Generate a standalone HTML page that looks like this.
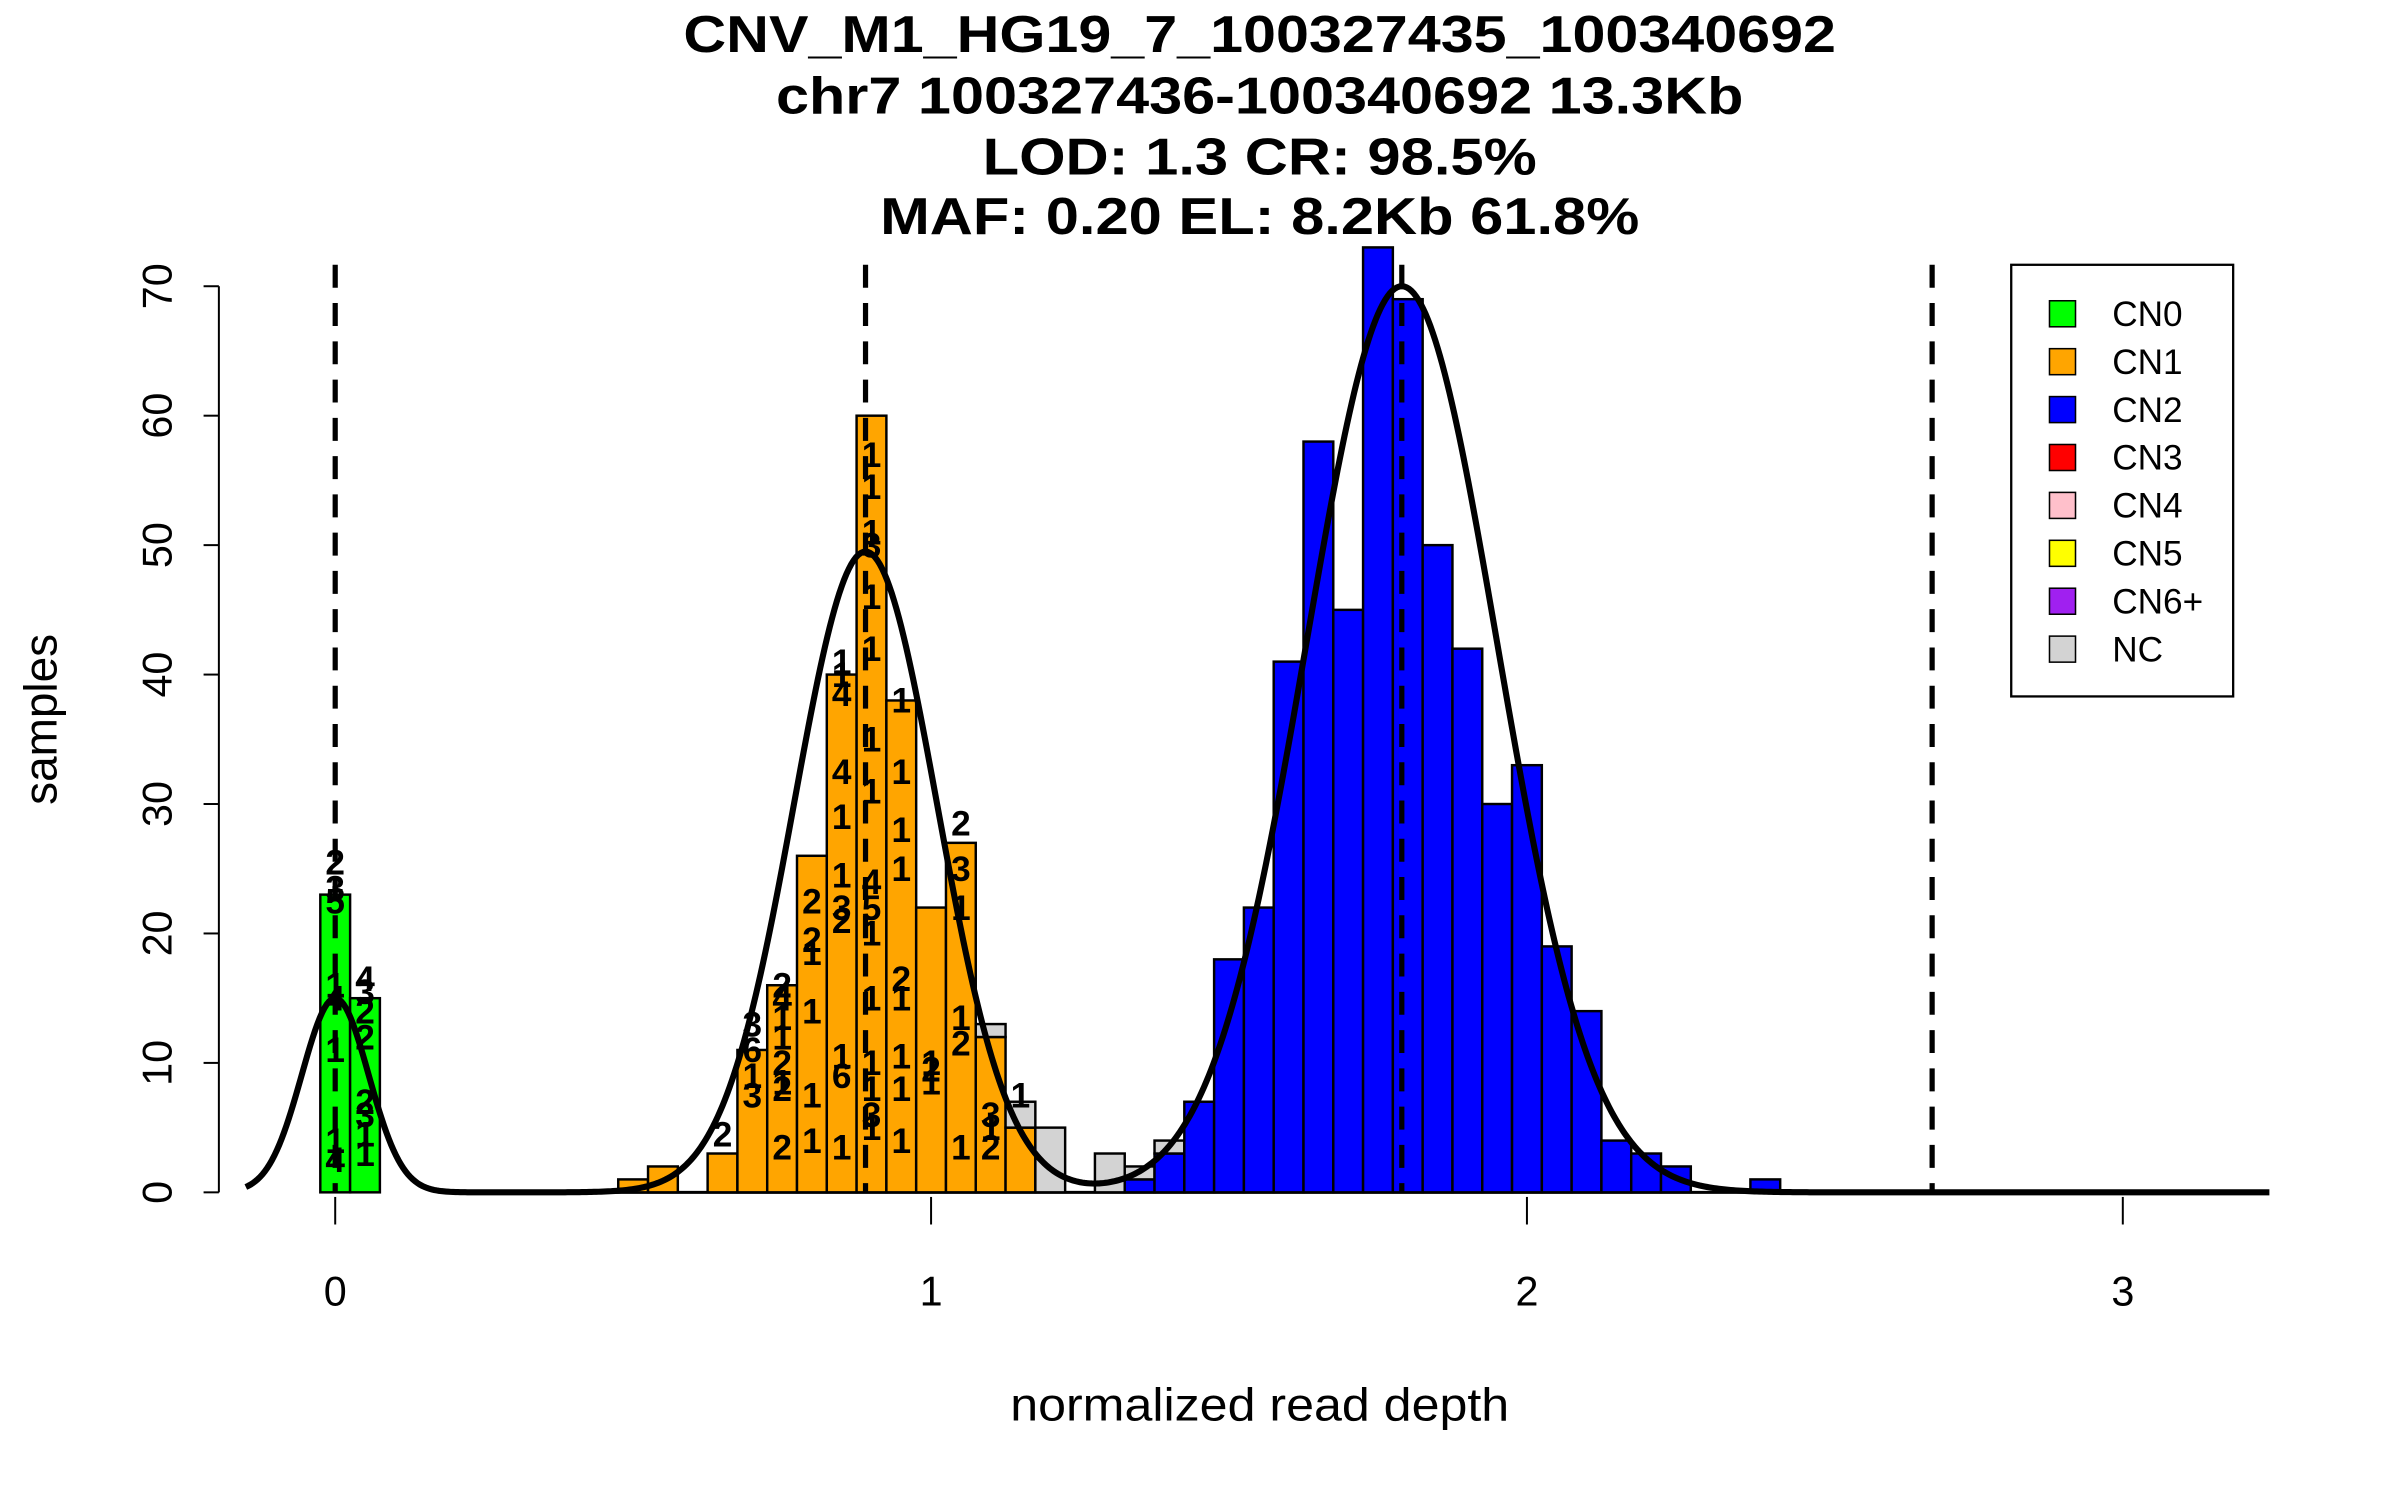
<!DOCTYPE html>
<html><head><meta charset="utf-8"><style>
html,body{margin:0;padding:0;background:#fff;}
svg{display:block;font-family:"Liberation Sans",Arial,sans-serif;}
</style></head><body>
<svg id="chart" width="2400" height="1500" viewBox="0 0 1568 980" preserveAspectRatio="none" xmlns="http://www.w3.org/2000/svg">
<g font-weight="bold" font-size="34" text-anchor="middle" fill="#000">
<text x="823" y="34" textLength="753" lengthAdjust="spacingAndGlyphs">CNV_M1_HG19_7_100327435_100340692</text>
<text x="823" y="74" textLength="632" lengthAdjust="spacingAndGlyphs">chr7 100327436-100340692 13.3Kb</text>
<text x="823" y="114" textLength="362" lengthAdjust="spacingAndGlyphs">LOD: 1.3 CR: 98.5%</text>
<text x="823" y="153" textLength="496" lengthAdjust="spacingAndGlyphs">MAF: 0.20 EL: 8.2Kb 61.8%</text>
</g>
<g id="bars"></g>
<g id="labels" font-weight="bold" font-size="23" text-anchor="middle"></g>
<g id="dashes"></g>
<g id="curve"></g>
<g id="yaxis" font-size="27"></g>
<g id="xaxis" font-size="27"></g>
<text x="823" y="928" font-size="30" text-anchor="middle" textLength="326" lengthAdjust="spacingAndGlyphs">normalized read depth</text>
<text transform="translate(37,470) rotate(-90)" font-size="30" text-anchor="middle">samples</text>
<g id="legend"></g>
</svg>
<script>
const binCenters=[0,0.05,0.45,0.5,0.55,0.65,0.7,0.75,0.8,0.85,0.9,0.95,1.0,1.05,1.1,1.15,1.2,1.3,1.35,1.4,1.45,1.5,1.55,1.6,1.65,1.7,1.75,1.8,1.85,1.9,1.95,2.0,2.05,2.1,2.15,2.2,2.25,2.4];
const cn0Counts=[23,15,0,0,0,0,0,0,0,0,0,0,0,0,0,0,0,0,0,0,0,0,0,0,0,0,0,0,0,0,0,0,0,0,0,0,0,0];
const cn1Counts=[0,0,0,1,2,3,11,16,26,40,60,38,22,27,12,5,0,0,0,0,0,0,0,0,0,0,0,0,0,0,0,0,0,0,0,0,0,0];
const cn2Counts=[0,0,0,0,0,0,0,0,0,0,0,0,0,0,0,0,0,0,1,3,7,18,22,41,58,45,73,69,50,42,30,33,19,14,4,3,2,1];
const ncCounts=[0,0,0,0,0,0,0,0,0,0,0,0,0,0,1,2,5,3,1,1,0,0,0,0,0,0,0,0,0,0,0,0,0,0,0,0,0,0];
const yTicks=[0,10,20,30,40,50,60,70];
const xTicks=[0,1,2,3];
const cnMeans=[0,0.89,1.79,2.68];
const compMeans=[0,0.89,1.79];
const compPeaks=[15,49.5,70];
const compSDs=[0.056,0.12,0.16];
const legendLabels=["CN0","CN1","CN2","CN3","CN4","CN5","CN6+","NC"];
const legendColors=["#00ff00","#ffa500","#0000ff","#ff0000","#ffc0cb","#ffff00","#a020f0","#d3d3d3"];
const labelX=[0,0,0,0,0,0,0,0,0.05,0.05,0.05,0.05,0.05,0.05,0.05,0.05,0.65,0.7,0.7,0.7,0.7,0.75,0.75,0.75,0.75,0.75,0.75,0.75,0.75,0.8,0.8,0.8,0.8,0.8,0.8,0.85,0.85,0.85,0.85,0.85,0.85,0.85,0.85,0.85,0.85,0.85,0.9,0.9,0.9,0.9,0.9,0.9,0.9,0.9,0.9,0.9,0.9,0.9,0.9,0.9,0.9,0.9,0.95,0.95,0.95,0.95,0.95,0.95,0.95,0.95,0.95,1.0,1.0,1.0,1.05,1.05,1.05,1.05,1.05,1.05,1.1,1.1,1.1,1.15];
const labelY=[25.5,23.5,22.5,16,15,11,4,2.5,16.5,15.5,14,12,7,6,4.5,3,4.5,13,11,9,7.5,16,15,13.5,12,10,8.5,8,3.5,22.5,19.5,18.5,14,7.5,4,41,40,38.5,32.5,29,24.5,22,21,10.5,9,3.5,57,54.5,51,50,46,42,35,31,24,22,20,15,10,8,6,5,38,32.5,28,25,16.5,15,10.5,8,4,10,9.5,8.5,28.5,25,22,13.5,11.5,3.5,6,5,3.5,7.5];
const labelText=["2","3","5","1","4","1","1","4","4","3","2","2","2","3","1","1","2","3","6","1","3","2","4","1","1","2","1","2","2","2","2","1","1","1","1","1","1","4","4","1","1","3","2","1","6","1","1","1","1","3","1","1","1","1","4","5","1","1","1","1","3","1","1","1","1","1","2","1","1","1","1","1","2","1","2","3","1","1","2","1","3","1","2","1"];

const NS="http://www.w3.org/2000/svg";
const X0=219, XU=389.3, Y0=779, YU=8.457;
function xs(u){return X0+u*XU;}
function ys(c){return Y0-c*YU;}
function mk(tag,attrs,parent){const e=document.createElementNS(NS,tag);for(const k in attrs)e.setAttribute(k,attrs[k]);parent.appendChild(e);return e;}
const bw=0.05;
const barsG=document.getElementById('bars');
const base=mk('line',{x1:xs(0.45),x2:xs(3.08),y1:Y0,y2:Y0,stroke:'#000','stroke-width':2},barsG);


const series=[[cn0Counts,"#00ff00","cn0"],[cn1Counts,"#ffa500","cn1"],[cn2Counts,"#0000ff","cn2"],[ncCounts,"#d3d3d3","nc"]];
binCenters.forEach((c,i)=>{
  let acc=0;
  series.forEach(([arr,col,nm])=>{
    const v=arr[i]; if(!v) return;
    const r=mk('rect',{x:xs(c-bw/2),y:ys(acc+v),width:XU*bw,height:v*YU,fill:col,stroke:'#000','stroke-width':1.6},barsG);
    
    
    acc+=v;
  });
});
const labG=document.getElementById('labels');
labelX.forEach((u,i)=>{
  const t=mk('text',{x:xs(u),y:ys(labelY[i])+8},labG);
  t.textContent=labelText[i];
  
  
});
const dG=document.getElementById('dashes');
cnMeans.forEach(m=>{
  const l=mk('line',{x1:xs(m),x2:xs(m),y1:173,y2:Y0,stroke:'#000','stroke-width':3.4,'stroke-dasharray':'15 10'},dG);
  
  
});
const cG=document.getElementById('curve');
let d='';
for(let u=-0.15;u<=3.25;u+=0.004){
  let v=0;
  compMeans.forEach((m,k)=>{v+=compPeaks[k]*Math.exp(-0.5*Math.pow((u-m)/compSDs[k],2));});
  d+=(d?'L':'M')+xs(u).toFixed(2)+','+ys(v).toFixed(2);
}
const cp=mk('path',{d:d,fill:'none',stroke:'#000','stroke-width':4},cG);


const yG=document.getElementById('yaxis');
const ya=mk('line',{x1:143,x2:143,y1:ys(70),y2:ys(0),stroke:'#000','stroke-width':1.3},yG);


yTicks.forEach(v=>{
  const tk=mk('line',{x1:133,x2:143,y1:ys(v),y2:ys(v),stroke:'#000','stroke-width':1.3},yG);
  
  
  const t=mk('text',{transform:'translate(112,'+ys(v)+') rotate(-90)','text-anchor':'middle'},yG);
  t.textContent=v;
  
  
});
const xG=document.getElementById('xaxis');
xTicks.forEach(v=>{
  const tk=mk('line',{x1:xs(v),x2:xs(v),y1:782,y2:800,stroke:'#000','stroke-width':1.3},xG);
  
  
  const t=mk('text',{x:xs(v),y:853,'text-anchor':'middle'},xG);
  t.textContent=v;
  
  
});
const lG=document.getElementById('legend');
const lb=mk('rect',{x:1314,y:173,width:145,height:282,fill:'#fff',stroke:'#000','stroke-width':1.5},lG);


legendLabels.forEach((lab,i)=>{
  const y=205+i*31.3;
  const s=mk('rect',{x:1339,y:y-8.5,width:17,height:17,fill:legendColors[i],stroke:'#000','stroke-width':1},lG);
  
  
  const t=mk('text',{x:1380,y:y+8,'font-size':23},lG);
  t.textContent=lab;
  
  
});
</script>
</body></html>
